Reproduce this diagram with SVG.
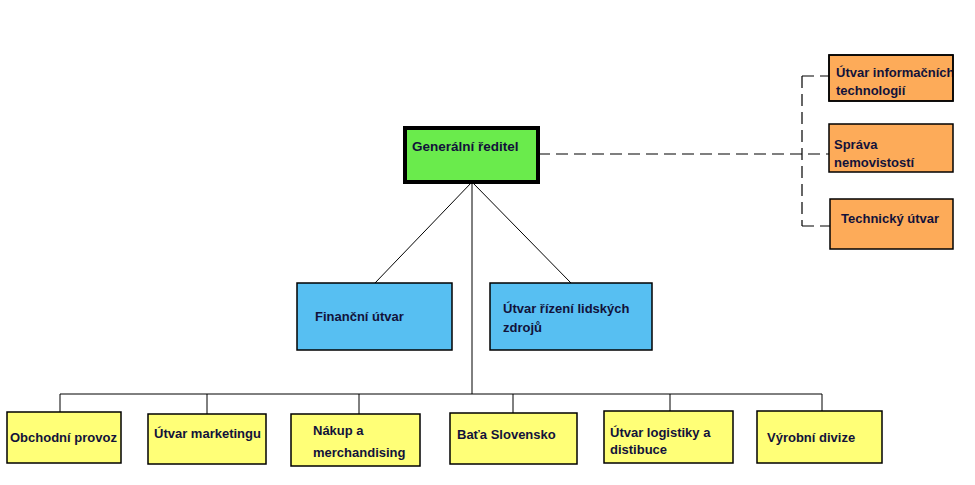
<svg xmlns="http://www.w3.org/2000/svg" width="975" height="485" viewBox="0 0 975 485">
<style>
text{font-family:"Liberation Sans",Arial,sans-serif;font-weight:bold;font-size:13px;fill:#12123a}
.box{stroke:#000;stroke-width:1.5}
.y{fill:#ffff77}.b{fill:#57bff2}.o{fill:#fdab59}
.ln{stroke:#000;stroke-width:1;fill:none}
.ds{stroke:#000;stroke-width:1.2;fill:none;stroke-dasharray:12 6}
</style>
<defs><clipPath id="itclip"><rect x="829" y="55" width="124" height="46"/></clipPath></defs>
<rect width="975" height="485" fill="#fff"/>
<g id="connectors">
<path class="ln" d="M472 182V394M472 182L375 283M472 182L571 283"/>
<path class="ln" d="M60 394H822M60 394V412M207 394V414M359 394V414M513 394V413M670 394V411M822 394V411"/>
<path class="ds" d="M538 154H829M802 76V226M802 76H829M802 226H830"/>
</g>
<g id="generalni-reditel"><rect x="405" y="128" width="133" height="54" fill="#6aeb4c" stroke="#000" stroke-width="4"/><text x="412" y="151" style="font-size:13.5px">Generální ředitel</text></g>
<g id="utvar-it"><rect class="box o" x="829" y="55" width="124" height="46"/><g clip-path="url(#itclip)"><text x="836" y="77">Útvar informačních</text></g><text x="836" y="95">technologií</text><rect x="829" y="55" width="124" height="46" fill="none" stroke="#000" stroke-width="1.5"/></g>
<g id="sprava"><rect class="box o" x="829" y="124" width="124" height="48"/><text x="834" y="149">Správa</text><text x="834" y="167">nemovistostí</text></g>
<g id="technicky"><rect class="box o" x="830" y="199" width="123" height="50"/><text x="841" y="223">Technický útvar</text></g>
<g id="financni"><rect class="box b" x="297" y="283" width="155" height="67"/><text x="315" y="321">Finanční útvar</text></g>
<g id="lidske-zdroje"><rect class="box b" x="490" y="283" width="162" height="67"/><text x="503" y="313">Útvar řízení lidských</text><text x="503" y="332">zdrojů</text></g>
<g id="obchodni"><rect class="box y" x="7" y="412" width="114" height="51"/><text x="10" y="442">Obchodní provoz</text></g>
<g id="marketing"><rect class="box y" x="148" y="414" width="118" height="50"/><text x="154" y="438">Útvar marketingu</text></g>
<g id="nakup"><rect class="box y" x="291" y="414" width="129" height="52"/><text x="313" y="435">Nákup a</text><text x="313" y="457">merchandising</text></g>
<g id="bata"><rect class="box y" x="450" y="413" width="127" height="51"/><text x="457" y="439">Baťa Slovensko</text></g>
<g id="logistika"><rect class="box y" x="604" y="411" width="129" height="52"/><text x="610" y="437">Útvar logistiky a</text><text x="610" y="454">distibuce</text></g>
<g id="vyrobni"><rect class="box y" x="757" y="411" width="125" height="52"/><text x="767" y="442">Výrobní divize</text></g>
</svg>
